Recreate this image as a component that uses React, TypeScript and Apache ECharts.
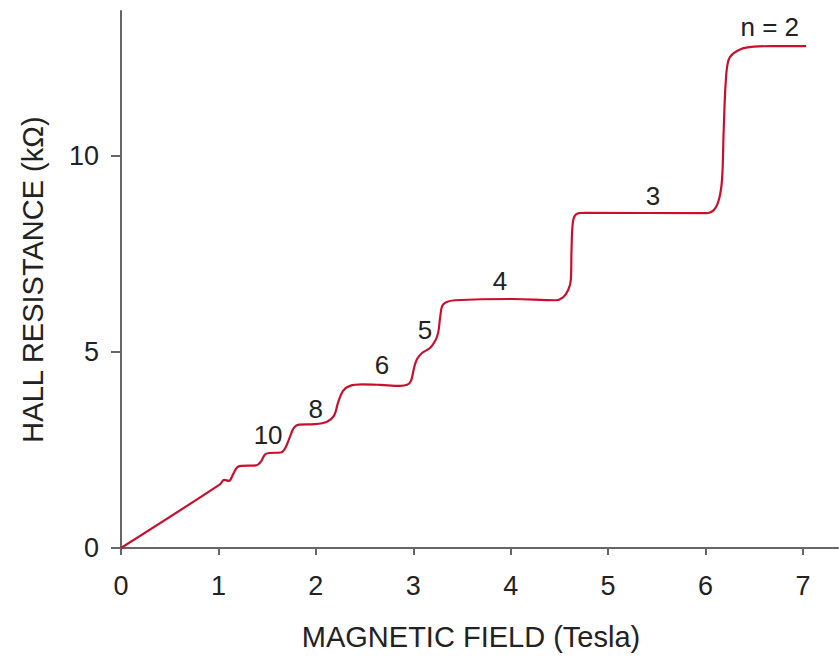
import React, { useEffect, useRef } from "react";
import * as echarts from "echarts";

// Magnetic field (Tesla)
const fieldTesla = [
  0, 1.016, 1.057, 1.109, 1.15, 1.191, 1.232, 1.386, 1.437, 1.478, 1.52, 1.643,
  1.684, 1.735, 1.776, 1.828, 1.992, 2.115, 2.187, 2.228, 2.279, 2.351, 2.474,
  2.659, 2.864, 2.936, 2.977, 3.008, 3.039, 3.09, 3.172, 3.224, 3.255, 3.275,
  3.296, 3.337, 3.429, 4.025, 4.456, 4.538, 4.589, 4.617, 4.625, 4.641, 4.682,
  4.764, 6.006, 6.088, 6.14, 6.17, 6.186, 6.206, 6.232, 6.283, 6.417, 6.694,
  7.033,
];
// Hall resistance (kΩ)
const hallResistance = [
  0, 1.624, 1.739, 1.713, 1.878, 2.056, 2.094, 2.107, 2.208, 2.386, 2.424,
  2.437, 2.538, 2.843, 3.071, 3.147, 3.16, 3.223, 3.376, 3.706, 4.01, 4.137,
  4.175, 4.162, 4.137, 4.162, 4.264, 4.594, 4.822, 4.975, 5.102, 5.279, 5.482,
  5.863, 6.168, 6.269, 6.32, 6.353, 6.32, 6.396, 6.574, 6.827, 7.64, 8.35,
  8.528, 8.553, 8.541, 8.629, 8.909, 9.416, 10.609, 11.827, 12.411, 12.614,
  12.766, 12.805, 12.805,
];

// Plateau labels (filling factor n)
const plateauLabels = ["10", "8", "6", "5", "4", "3", "n = 2"];
const plateauLabelX = [1.51, 2.0, 2.68, 3.12, 3.89, 5.46, 6.66];
const plateauLabelY = [2.89, 3.55, 4.67, 5.56, 6.81, 8.99, 13.28];

const xTicks = [0, 1, 2, 3, 4, 5, 6, 7];
const yTicks = [0, 5, 10];

const FONT = "'Liberation Sans', Arial, Helvetica, sans-serif";

export default function App() {
  const ref = useRef<HTMLDivElement>(null);

  useEffect(() => {
    if (!ref.current) return;
    const chart = echarts.init(ref.current, undefined, { renderer: "svg" });
    const curve = fieldTesla.map((x, i) => [x, hallResistance[i]]);
    const labels = plateauLabels.map((t, i) => ({
      value: [plateauLabelX[i], plateauLabelY[i]],
      name: t,
    }));
    chart.setOption({
      animation: false,
      backgroundColor: "#ffffff",
      grid: { left: 121, right: 2, top: 11, bottom: 105, containLabel: false },
      xAxis: {
        type: "value",
        min: 0,
        max: 7.36,
        name: "MAGNETIC FIELD (Tesla)",
        nameLocation: "middle",
        nameGap: 74,
        nameTextStyle: {
          fontFamily: FONT,
          fontSize: 29,
          color: "#222",
          padding: [0, 17, 0, 0],
        },
        axisLine: { show: true, lineStyle: { color: "#666", width: 2 } },
        axisTick: {
          show: true,
          customValues: xTicks,
          length: 7,
          lineStyle: { color: "#666", width: 2 },
        },
        axisLabel: {
          customValues: xTicks,
          margin: 24,
          fontFamily: FONT,
          fontSize: 27,
          color: "#222",
        },
        splitLine: { show: false },
      },
      yAxis: {
        type: "value",
        min: 0,
        max: 13.7,
        name: "HALL RESISTANCE (kΩ)",
        nameLocation: "middle",
        nameGap: 74,
        nameTextStyle: { fontFamily: FONT, fontSize: 29, color: "#222" },
        axisLine: { show: true, lineStyle: { color: "#666", width: 2 } },
        axisTick: {
          show: true,
          customValues: yTicks,
          length: 10,
          lineStyle: { color: "#666", width: 2 },
        },
        axisLabel: {
          customValues: yTicks,
          margin: 22,
          fontFamily: FONT,
          fontSize: 27,
          color: "#222",
        },
        splitLine: { show: false },
      },
      series: [
        {
          type: "line",
          data: curve,
          showSymbol: false,
          smooth: 0.35,
          lineStyle: { color: "#c8102e", width: 2.2 },
          z: 3,
        },
        {
          type: "scatter",
          data: labels,
          symbolSize: 0,
          itemStyle: { opacity: 1, color: "#222" },
          label: {
            show: true,
            position: "inside",
            formatter: (p: any) => p.name,
            fontFamily: FONT,
            fontSize: 26,
            color: "#222",
            opacity: 1,
          },
          z: 4,
        },
      ],
    });
    return () => chart.dispose();
  }, []);

  return (
    <div
      ref={ref}
      style={{ position: "fixed", left: 0, top: 0, width: 840, height: 656 }}
    />
  );
}
